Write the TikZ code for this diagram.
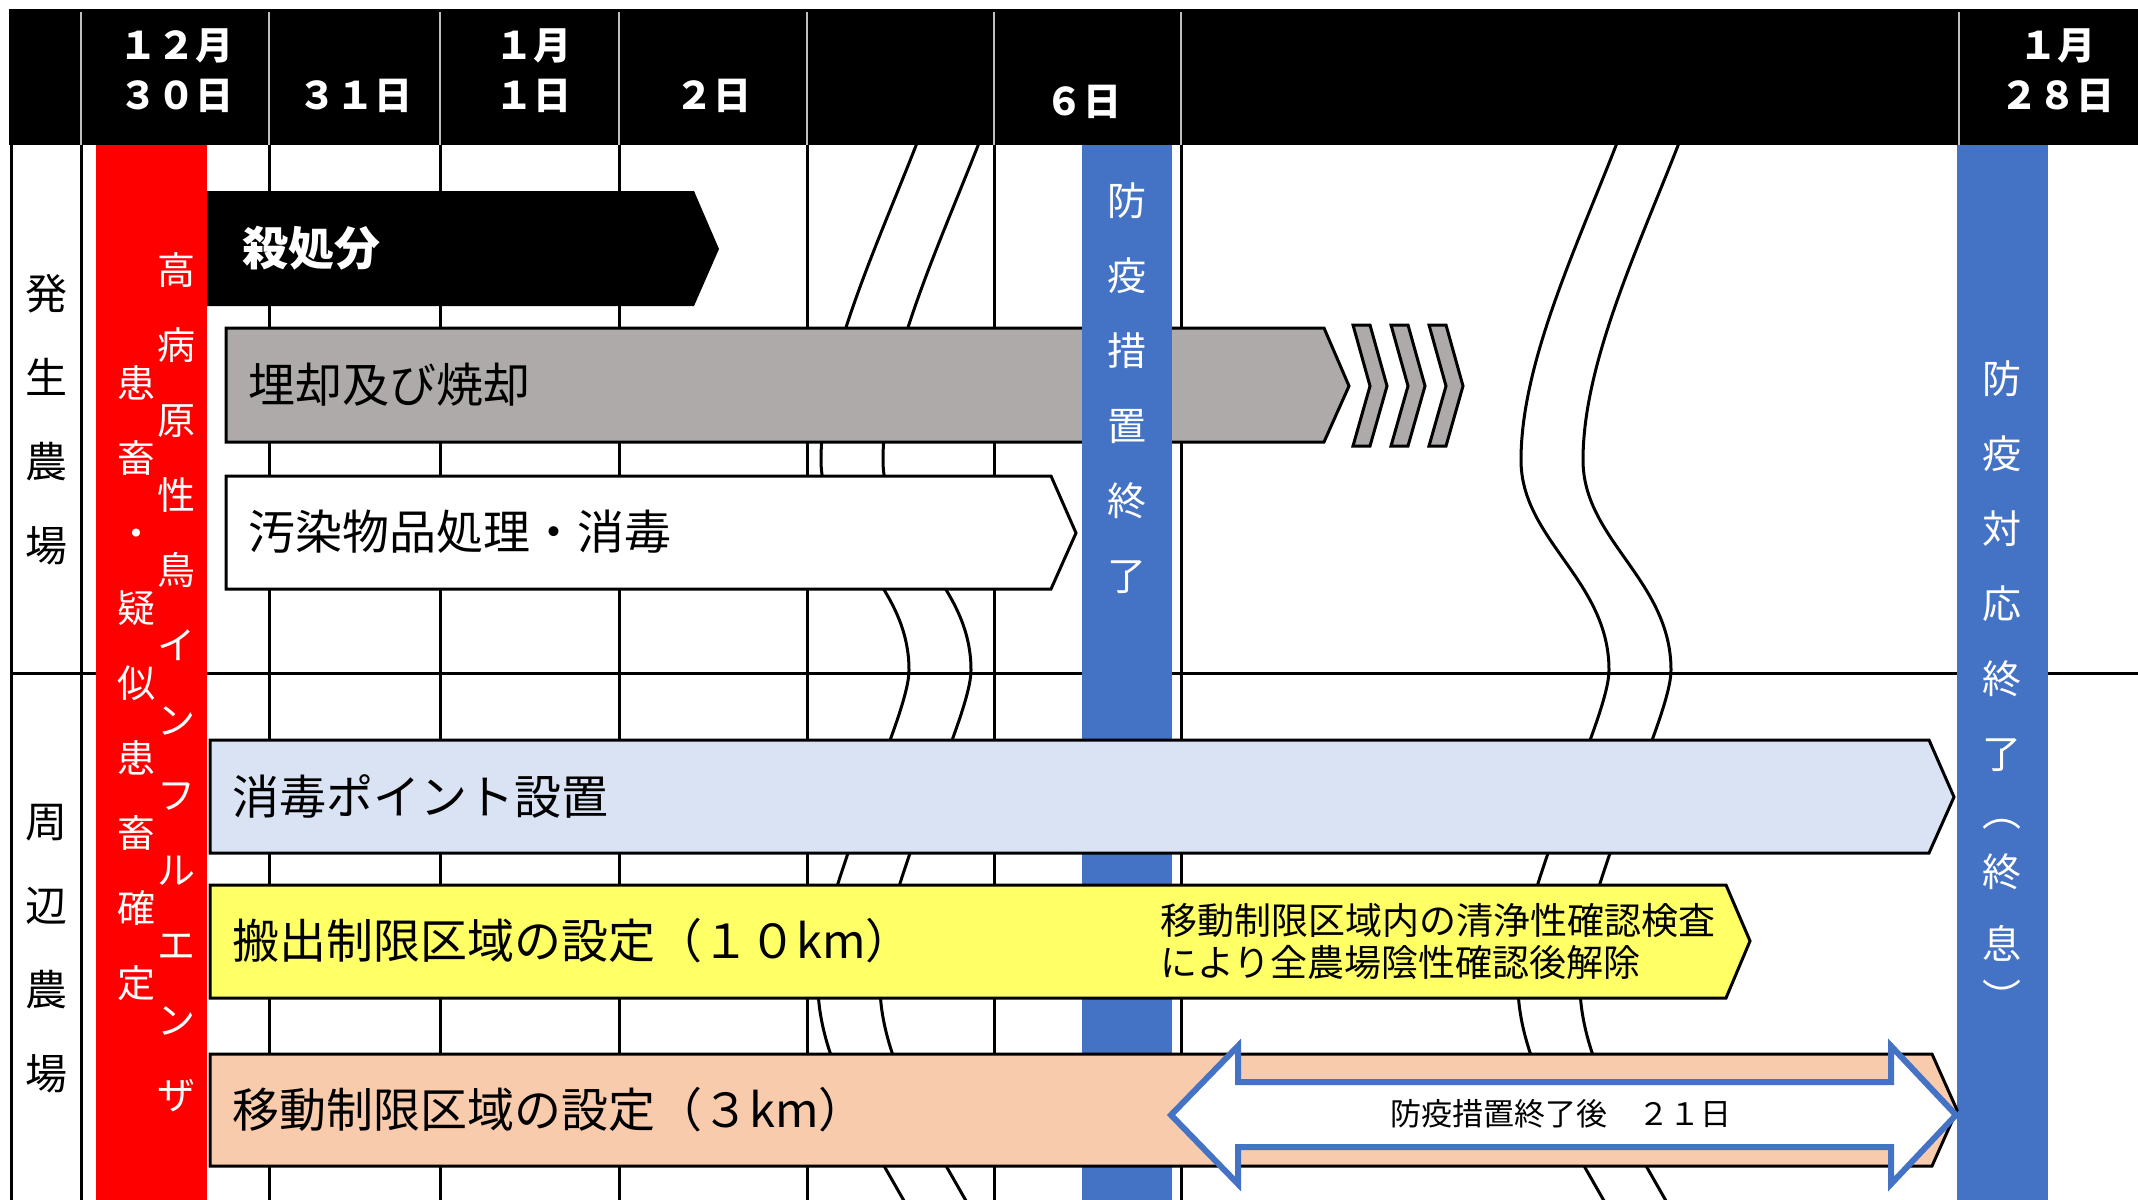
\documentclass[tikz,border=0pt]{standalone}
\usepackage{fontspec}
\setmainfont{Noto Sans CJK JP}
\definecolor{offblue}{HTML}{4472C4}
\definecolor{arrgray}{HTML}{AEAAAA}
\definecolor{lblue}{HTML}{DAE3F3}
\definecolor{yel}{HTML}{FFFF66}
\definecolor{peach}{HTML}{F8CBAD}
\definecolor{hdrline}{HTML}{BFBFBF}
\definecolor{redbar}{HTML}{FF0000}
\begin{document}
\begin{tikzpicture}[x=1pt,y=-1pt,
  gridln/.style={line width=3pt, black},
  hdrln/.style={line width=2pt, hdrline},
  waveln/.style={line width=3pt, black},
  barshape/.style={draw=black, line width=3pt, line join=miter},
  lbl/.style={inner sep=0pt, anchor=west, font=\fontsize{47}{56}\selectfont},
  vlab/.style={inner sep=0pt, align=center, font=\fontsize{42}{84}\selectfont},
  vred/.style={inner sep=0pt, align=center, text=white, font=\fontsize{38}{75}\selectfont},
  vblue/.style={inner sep=0pt, align=center, text=white, font=\fontsize{39}{75}\selectfont},
  hdr/.style={inner sep=0pt, text=white, font=\bfseries\fontsize{38}{44}\selectfont},
]
\useasboundingbox (0,0) rectangle (2138,1199);
\clip (0,0) rectangle (2138,1199);
\fill[white] (0,0) rectangle (2138,1199);

% grid lines
\draw[gridln] (11,145) -- (11,1210);
\foreach \gx in {81,269,440,619,807,994,1181}
  \draw[gridln] (\gx,145) -- (\gx,1210);
\draw[gridln] (11,673) -- (2145,673);

% wavy break lines
\foreach \dx in {0,62,-700,-638}{
  \begin{scope}[shift={(\dx,0)}]
    \draw[waveln] (1622,130) .. controls (1580,240) and (1521,360) .. (1521,460)
      .. controls (1521,540) and (1609,580) .. (1609,670)
      .. controls (1609,720) and (1518,890) .. (1518,985)
      .. controls (1518,1060) and (1570,1140) .. (1612,1215);
  \end{scope}
}

% upper arrows
\fill[black] (207,191) -- (694,191) -- (719,249) -- (694,306) -- (207,306) -- cycle;
\filldraw[barshape, fill=arrgray] (226,328) -- (1324,328) -- (1349,386) -- (1324,442) -- (226,442) -- cycle;
\foreach \cx in {1353,1391,1429}
  \filldraw[barshape, fill=arrgray] (\cx,325) -- ({\cx+17},325) -- ({\cx+34},386) -- ({\cx+17},446) -- (\cx,446) -- ({\cx+17},386) -- cycle;
\filldraw[barshape, fill=white] (226,476) -- (1051,476) -- (1076,533) -- (1051,589) -- (226,589) -- cycle;

% vertical bars
\fill[redbar] (96,145) rectangle (207,1210);
\fill[offblue] (1082,145) rectangle (1172,1210);
\fill[offblue] (1957,145) rectangle (2048,1210);

% lower arrows
\filldraw[barshape, fill=lblue] (210,740) -- (1929,740) -- (1954,797) -- (1929,853) -- (210,853) -- cycle;
\filldraw[barshape, fill=yel] (210,885) -- (1726,885) -- (1750,941) -- (1726,998) -- (210,998) -- cycle;
\filldraw[barshape, fill=peach] (210,1054) -- (1932,1054) -- (1957,1110) -- (1932,1166) -- (210,1166) -- cycle;

% double arrow
\filldraw[draw=offblue, line width=6pt, fill=white, line join=miter]
  (1171,1115) -- (1238,1046) -- (1238,1082) -- (1891,1082) -- (1891,1046) -- (1956,1115)
  -- (1891,1184) -- (1891,1147) -- (1238,1147) -- (1238,1184) -- cycle;

% header
\fill[black] (9,9) rectangle (2145,145);
\foreach \hx in {81,269,440,619,807,994,1181,1959}
  \draw[hdrln] (\hx,12) -- (\hx,145);

% header texts
\node[hdr] (d1a) at (176,46) {１２月};
\node[hdr] (d1b) at (176,96) {３０日};
\node[hdr] (d2) at (355,96) {３１日};
\node[hdr] (d3a) at (533,46) {１月};
\node[hdr] (d3b) at (533,96) {１日};
\node[hdr] (d4) at (713,96) {２日};
\node[hdr] (d6) at (1083,102) {６日};
\node[hdr] (d28a) at (2057,46) {１月};
\node[hdr] (d28b) at (2057,96) {２８日};

% row labels
\node[vlab] (farm1) at (46,419.5) {発\\生\\農\\場};
\node[vlab] (farm2) at (46,949) {周\\辺\\農\\場};

% red bar texts
\node[vred] (red1) at (176,682.5) {高\\病\\原\\性\\鳥\\イ\\ン\\フ\\ル\\エ\\ン\\ザ};
\node[vred] (red2) at (136,683.5) {患\\畜\\・\\疑\\似\\患\\畜\\確\\定};

% blue bar texts
\node[vblue] (end1) at (1127,388.5) {防\\疫\\措\\置\\終\\了};
\node[vblue] (end2a) at (2002,566) {防\\疫\\対\\応\\終\\了};
\node[vblue] (par1) at (2002,824) {︵};
\node[vblue, font=\fontsize{39}{72}\selectfont] (end2b) at (2002,908) {終\\息};
\node[vblue] (par2) at (2002,996) {︶};

% arrow labels
\node[lbl, text=white, font=\bfseries\fontsize{46}{56}\selectfont] (kill) at (242,248) {殺処分};
\node[lbl] (burn) at (248,385) {埋却及び焼却};
\node[lbl] (clean) at (248,532) {汚染物品処理・消毒};
\node[lbl] (point) at (232,796) {消毒ポイント設置};
\node[lbl] (zone10) at (232,941) {搬出制限区域の設定（１０km）};
\node[lbl] (zone3) at (232,1110) {移動制限区域の設定（３km）};
\node[inner sep=0pt, anchor=west, align=left, font=\fontsize{37}{42}\selectfont] (note) at (1160,941) {移動制限区域内の清浄性確認検査\\により全農場陰性確認後解除};
\node[inner sep=0pt, font=\fontsize{31}{36}\selectfont] (days) at (1561,1114) {防疫措置終了後　２１日};
\end{tikzpicture}
\end{document}
